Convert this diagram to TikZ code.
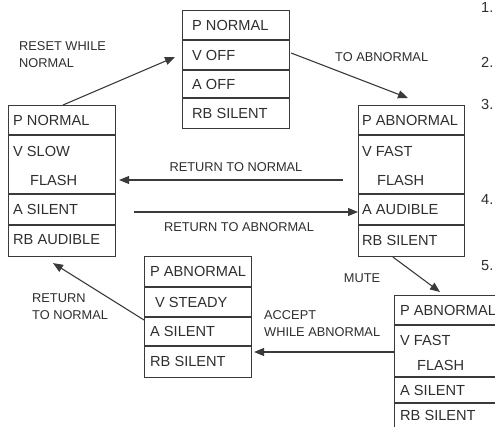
\documentclass[tikz,border=0pt]{standalone}
\usepackage{fontspec}
\setmainfont{Liberation Sans}
\usetikzlibrary{arrows.meta,calc}
\definecolor{ink}{HTML}{3A3A3A}
\definecolor{txtc}{HTML}{2E2E2E}
\begin{document}
\begin{tikzpicture}[x=1pt,y=-1pt,
  statebox/.style={draw=ink, line width=1.1pt, anchor=north west, inner sep=0pt},
  rowline/.style={draw=ink, line width=1.1pt},
  cell/.style={anchor=west, inner sep=0pt, text=txtc, font=\fontsize{14.6}{16}\selectfont},
  lbl/.style={inner sep=0pt, text=txtc, align=left, font=\fontsize{12.8}{17}\selectfont},
  arr/.style={draw=ink, line width=1.1pt, -{Triangle[length=10pt,width=8pt]}}]
\useasboundingbox (0,0) rectangle (495,427);
\clip (0,0) rectangle (495,427);

% ---- state boxes ----
\node[statebox, minimum width=107pt, minimum height=118pt] (s0) at (182,10) {};
\node[statebox, minimum width=107pt, minimum height=151pt] (s1) at (8,105) {};
\node[statebox, minimum width=106pt, minimum height=151pt] (s2) at (358,105) {};
\node[statebox, minimum width=107pt, minimum height=121pt] (s3) at (144,256) {};
\node[statebox, minimum width=120pt, minimum height=136pt] (s4) at (394,295) {};

% rows
\foreach \yy in {40,70,98} \draw[rowline] (182,\yy) -- (289,\yy);
\foreach \yy in {135,194,225} \draw[rowline] (8,\yy) -- (115,\yy);
\foreach \yy in {135,194,225} \draw[rowline] (358,\yy) -- (464,\yy);
\foreach \yy in {287,317,346} \draw[rowline] (144,\yy) -- (251,\yy);
\foreach \yy in {325,377,403} \draw[rowline] (394,\yy) -- (514,\yy);

% texts
\node[cell] (t0a) at (192,25) {P NORMAL};
\node[cell] (t0b) at (192,55) {V OFF};
\node[cell] (t0c) at (192,84) {A OFF};
\node[cell] (t0d) at (192,113) {RB SILENT};

\node[cell] (t1a) at (13,120) {P NORMAL};
\node[cell] (t1b) at (13,151) {V SLOW};
\node[cell] (t1c) at (30,180) {FLASH};
\node[cell] (t1d) at (13,209.5) {A SILENT};
\node[cell] (t1e) at (13,240) {RB AUDIBLE};

\node[cell] (t2a) at (362,120) {P ABNORMAL};
\node[cell] (t2b) at (362,151) {V FAST};
\node[cell] (t2c) at (377,180) {FLASH};
\node[cell] (t2d) at (362,209.5) {A AUDIBLE};
\node[cell] (t2e) at (362,240) {RB SILENT};

\node[cell] (t3a) at (150,271) {P ABNORMAL};
\node[cell] (t3b) at (155,302) {V STEADY};
\node[cell] (t3c) at (150,331) {A SILENT};
\node[cell] (t3d) at (150,361) {RB SILENT};

\node[cell] (t4a) at (400,310) {P ABNORMAL};
\node[cell] (t4b) at (400,340) {V FAST};
\node[cell] (t4c) at (417,365) {FLASH};
\node[cell] (t4d) at (400,390) {A SILENT};
\node[cell] (t4e) at (400,415) {RB SILENT};

% ---- connectors ----
\coordinate (a1s) at ($(s1.north west)+(55,0)$);
\coordinate (a1e) at ($(s0.north west)+(-7,47)$);
\draw[arr] (a1s) -- (a1e);

\coordinate (a2s) at ($(s0.north east)+(1,43)$);
\coordinate (a2e) at ($(s2.north west)+(50,-7)$);
\draw[arr] (a2s) -- (a2e);

\coordinate (a3s) at ($(s2.north west)+(-15,75)$);
\coordinate (a3e) at ($(s1.north east)+(3,75)$);
\draw[arr] (a3s) -- (a3e);

\coordinate (a4s) at ($(s1.north east)+(18,107)$);
\coordinate (a4e) at ($(s2.north west)+(0,107)$);
\draw[arr] (a4s) -- (a4e);

\coordinate (a5s) at ($(s2.south west)+(35,0)$);
\coordinate (a5e) at ($(s4.north west)+(46,-3)$);
\draw[arr] (a5s) -- (a5e);

\coordinate (a6s) at ($(s4.north west)+(0,57)$);
\coordinate (a6e) at ($(s3.north east)+(2,96)$);
\draw[arr] (a6s) -- (a6e);

\coordinate (a7s) at ($(s3.north west)+(0,64)$);
\coordinate (a7e) at ($(s1.south west)+(45,6)$);
\draw[arr] (a7s) -- (a7e);

% ---- labels ----
\node[lbl, anchor=west] (l1) at (19,54.5) {RESET WHILE\\NORMAL};
\node[lbl, anchor=west] (l2) at (335,57) {TO ABNORMAL};
\node[lbl] (l3) at (236,167) {RETURN TO NORMAL};
\node[lbl] (l4) at (239,227) {RETURN TO ABNORMAL};
\node[lbl] (l5) at (362,278) {MUTE};
\node[lbl, anchor=west] (l6) at (264,323.5) {ACCEPT\\WHILE ABNORMAL};
\node[lbl, anchor=west] (l7) at (32,307) {RETURN\\TO NORMAL};

% ---- margin numbers ----
\node[cell] (n1) at (481,7) {1.};
\node[cell] (n2) at (481,62) {2.};
\node[cell] (n3) at (481,104) {3.};
\node[cell] (n4) at (481,199) {4.};
\node[cell] (n5) at (481,266) {5.};
\end{tikzpicture}
\end{document}
